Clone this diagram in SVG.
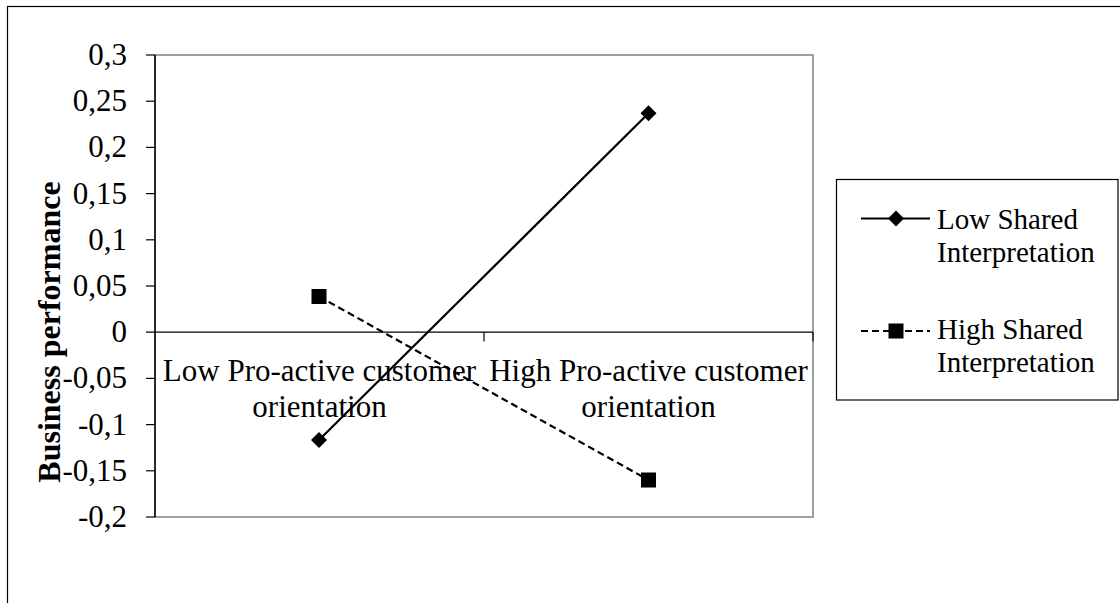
<svg xmlns="http://www.w3.org/2000/svg" width="1120" height="603" viewBox="0 0 1120 603" font-family="'Liberation Serif', 'Times New Roman', serif">
<defs>
<style>
text{font-family:"Liberation Serif","Times New Roman",serif;fill:#000}
.ax{font-size:31px}
.cat{font-size:31px;text-anchor:middle}
.lg{font-size:29px}
.tk{stroke:#000;stroke-width:1.2}
.solid{stroke:#000;stroke-width:2.2;fill:none}
.dash{stroke:#000;stroke-width:2.2;fill:none;stroke-dasharray:7 4}
</style>
<path id="dia" d="M0,-8 L8,0 L0,8 L-8,0 Z" fill="#000"/>
<rect id="sq" x="-7.5" y="-7.5" width="15" height="15" fill="#000"/>
</defs>
<rect width="1120" height="603" fill="#fff"/>
<rect x="7.5" y="6.5" width="1200" height="700" fill="none" stroke="#000" stroke-width="1.2"/>
<g id="plot-area">
<rect x="155" y="55" width="658" height="462" fill="#fff" stroke="#808080" stroke-width="1.5"/>
<line x1="155" y1="55" x2="155" y2="517" stroke="#000" stroke-width="1.5"/>
<line x1="146" y1="332.2" x2="813" y2="332.2" stroke="#000" stroke-width="1.2"/>
</g>
<g id="y-axis">
<g class="tk">
<line x1="146" y1="55" x2="155" y2="55"/>
<line x1="146" y1="101.2" x2="155" y2="101.2"/>
<line x1="146" y1="147.4" x2="155" y2="147.4"/>
<line x1="146" y1="193.6" x2="155" y2="193.6"/>
<line x1="146" y1="239.8" x2="155" y2="239.8"/>
<line x1="146" y1="286" x2="155" y2="286"/>
<line x1="146" y1="378.4" x2="155" y2="378.4"/>
<line x1="146" y1="424.6" x2="155" y2="424.6"/>
<line x1="146" y1="470.8" x2="155" y2="470.8"/>
<line x1="146" y1="517" x2="155" y2="517"/>
</g>
<g class="ax" text-anchor="end">
<text x="127" y="65">0,3</text>
<text x="127" y="111.2">0,25</text>
<text x="127" y="157.4">0,2</text>
<text x="127" y="203.6">0,15</text>
<text x="127" y="249.8">0,1</text>
<text x="127" y="296">0,05</text>
<text x="127" y="342.2">0</text>
<text x="127" y="388.4">-0,05</text>
<text x="127" y="434.6">-0,1</text>
<text x="127" y="480.8">-0,15</text>
<text x="127" y="527">-0,2</text>
</g>
<text transform="translate(60,332) rotate(-90)" text-anchor="middle" font-size="32" font-weight="bold">Business performance</text>
</g>
<g id="x-axis">
<g class="tk">
<line x1="484" y1="332.2" x2="484" y2="341.5"/>
<line x1="813" y1="332.2" x2="813" y2="341.5"/>
</g>
<text class="cat" x="319.5" y="381">Low Pro-active customer</text>
<text class="cat" x="319.5" y="416.5">orientation</text>
<text class="cat" x="648.5" y="381">High Pro-active customer</text>
<text class="cat" x="648.5" y="416.5">orientation</text>
</g>
<g id="connectors">
<line class="solid" x1="319" y1="440" x2="648.5" y2="113.3"/>
<line class="dash" x1="319" y1="296.5" x2="648.5" y2="480"/>
</g>
<g id="series-low">
<use href="#dia" x="319" y="440"/>
<use href="#dia" x="648.5" y="113.3"/>
</g>
<g id="series-high">
<use href="#sq" x="319" y="296.5"/>
<use href="#sq" x="648.5" y="480"/>
</g>
<g id="legend">
<rect x="836.5" y="179.5" width="281.5" height="220.5" fill="#fff" stroke="#000" stroke-width="1.2"/>
<line class="solid" x1="861" y1="218.5" x2="930" y2="218.5"/>
<use href="#dia" x="896" y="218.5"/>
<text class="lg" x="937" y="228.5">Low Shared</text>
<text class="lg" x="937" y="261.5">Interpretation</text>
<line class="dash" x1="861" y1="331" x2="930" y2="331" stroke-dasharray="6 4"/>
<use href="#sq" x="896" y="331"/>
<text class="lg" x="937" y="338.5">High Shared</text>
<text class="lg" x="937" y="371.5">Interpretation</text>
</g>
</svg>
